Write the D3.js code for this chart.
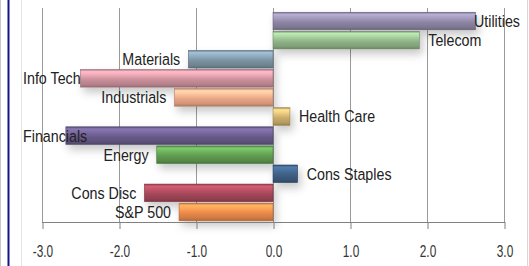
<!DOCTYPE html>
<html><head><meta charset="utf-8">
<script src="https://cdn.jsdelivr.net/npm/d3@7"></script>
<style>
html,body{margin:0;padding:0;background:#fff;}
svg{display:block;}
text{font-family:"Liberation Sans",Arial,sans-serif;fill:#222;}
</style></head>
<body>
<svg id="c" width="529" height="266"></svg>
<script>
const categories = ["Utilities","Telecom","Materials","Info Tech","Industrials","Health Care","Financials","Energy","Cons Staples","Cons Disc","S&P 500"];
const values = [2.63, 1.9, -1.1, -2.5, -1.28, 0.22, -2.69, -1.51, 0.32, -1.67, -1.22];
const barColors = ["#8c84a2","#8fb287","#7a92a2","#c98f9a","#e9a585","#c8ac6c","#685a88","#5f9a50","#3d5e82","#a24658","#e8884a"];
const tickValues = [-3,-2,-1,0,1,2,3];
const tickLabels = ["-3.0","-2.0","-1.0","0.0","1.0","2.0","3.0"];

const svg = d3.select("#c");
const W = 529, H = 266;

// frame decorations
svg.append("line").attr("x1",0.5).attr("x2",0.5).attr("y1",0).attr("y2",H).attr("stroke","#c8c8c8").attr("stroke-width",1);
svg.append("line").attr("x1",8.5).attr("x2",8.5).attr("y1",0).attr("y2",H).attr("stroke","#14148c").attr("stroke-width",2);
svg.append("line").attr("x1",21.5).attr("x2",21.5).attr("y1",0).attr("y2",H).attr("stroke","#e4e4e4").attr("stroke-width",1);
svg.append("line").attr("x1",527.5).attr("x2",527.5).attr("y1",0).attr("y2",H).attr("stroke","#d8d8d8").attr("stroke-width",1);

const x = d3.scaleLinear().domain([-3,3]).range([42,504]);
const y = d3.scaleBand().domain(categories).range([11.5,221.5]).paddingInner(0.08).paddingOuter(0.04);
const axisY = 222;

const defs = svg.append("defs");
const f = defs.append("filter").attr("id","sh").attr("x","-20%").attr("y","-60%").attr("width","140%").attr("height","260%");
f.append("feDropShadow").attr("dx",3).attr("dy",5).attr("stdDeviation",4).attr("flood-color","#000").attr("flood-opacity",0.22);

categories.forEach((c,i)=>{
  const base = d3.color(barColors[i]);
  const g = defs.append("linearGradient").attr("id","g"+i).attr("x1",0).attr("x2",0).attr("y1",0).attr("y2",1);
  const stops = [
    [0, base.darker(0.5)],
    [0.12, base.brighter(0.8)],
    [0.3, base.brighter(0.5)],
    [0.58, base],
    [0.85, base.darker(0.3)],
    [1, base.darker(0.8)]
  ];
  stops.forEach(s=>g.append("stop").attr("offset",s[0]).attr("stop-color",s[1].formatHex()));
});

// gridlines
svg.append("g").selectAll("line").data(tickValues).join("line")
  .attr("x1",d=>x(d)+0.5).attr("x2",d=>x(d)+0.5)
  .attr("y1",8).attr("y2",axisY)
  .attr("stroke","#9a9a9a").attr("stroke-width",1);

// bars
const data = categories.map((c,i)=>({c, v:values[i], i}));
svg.append("g").attr("filter","url(#sh)").selectAll("rect").data(data).join("rect")
  .attr("x",d=>Math.min(x(0),x(d.v)))
  .attr("width",d=>Math.abs(x(d.v)-x(0)))
  .attr("y",d=>y(d.c))
  .attr("height",y.bandwidth())
  .attr("fill",d=>"url(#g"+d.i+")")
  .attr("stroke",d=>d3.color(barColors[d.i]).darker(0.8).formatHex())
  .attr("stroke-width",0.6);

// bottom axis
const ax = svg.append("g").attr("transform",`translate(0,${axisY})`)
  .call(d3.axisBottom(x).tickValues(tickValues).tickSize(7).tickFormat((d,i)=>tickLabels[i]));
ax.select(".domain").attr("stroke","#808080").attr("d",`M${x(-3)},0.5H${x(3)+1}`);
ax.selectAll(".tick line").attr("stroke","#808080").attr("transform","translate(0.5,0)");
ax.selectAll(".tick text").remove();

const tsx = 0.74;
svg.append("g").selectAll("text").data(tickValues).join("text")
  .attr("transform",d=>`translate(${x(d)+1},251) scale(${tsx},1)`)
  .attr("text-anchor","middle").attr("dominant-baseline","central")
  .style("font-size","16px").style("fill","#333")
  .text((d,i)=>tickLabels[i]);

// category labels
const lsx = 0.84;
const lab = svg.append("g").selectAll("text").data(data).join("text")
  .attr("dominant-baseline","central")
  .style("font-size","17px").style("fill","#222")
  .text(d=>d.c);
lab.each(function(d){
  const w = this.getComputedTextLength()*lsx;
  const cy = y(d.c)+y.bandwidth()/2;
  let left;
  if(d.v>=0){ left = x(d.v)+9; } else { left = x(d.v)-8-w; }
  left = Math.max(23, Math.min(520-w, left));
  d3.select(this).attr("transform",`translate(${left},${cy}) scale(${lsx},1)`);
});
</script>
</body></html>
